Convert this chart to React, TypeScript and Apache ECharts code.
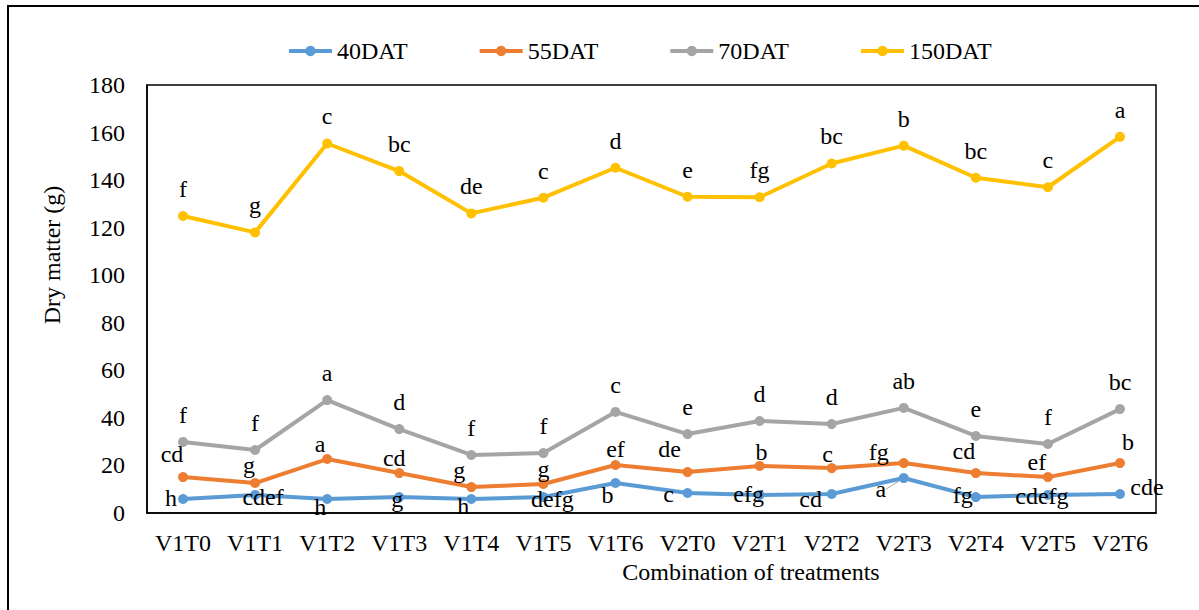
import React, { useEffect, useRef } from "react";
import * as echarts from "echarts";

const categories = ["V1T0", "V1T1", "V1T2", "V1T3", "V1T4", "V1T5", "V1T6", "V2T0", "V2T1", "V2T2", "V2T3", "V2T4", "V2T5", "V2T6"];

const dat40 = [5.9, 7.6, 5.9, 6.7, 5.9, 6.7, 12.6, 8.4, 7.6, 8.0, 14.7, 6.7, 7.6, 8.0];
const dat55 = [15.1, 12.6, 22.7, 16.8, 10.9, 12.2, 20.2, 17.2, 19.8, 18.9, 21.0, 16.8, 15.1, 21.0];
const dat70 = [29.9, 26.5, 47.5, 35.3, 24.4, 25.2, 42.5, 33.2, 38.7, 37.4, 44.2, 32.4, 29.0, 43.7];
const dat150 = [124.9, 118.0, 155.4, 143.8, 126.0, 132.6, 145.2, 133.0, 132.8, 147.0, 154.5, 141.0, 137.0, 158.2];

const letters40 = ["h", "cdef", "h", "g", "h", "defg", "b", "c", "efg", "cd", "a", "fg", "cdefg", "cde"];
const letters55 = ["cd", "g", "a", "cd", "g", "g", "ef", "de", "b", "c", "fg", "cd", "ef", "b"];
const letters70 = ["f", "f", "a", "d", "f", "f", "c", "e", "d", "d", "ab", "e", "f", "bc"];
const letters150 = ["f", "g", "c", "bc", "de", "c", "d", "e", "fg", "bc", "b", "bc", "c", "a"];

const seriesNames = ["40DAT", "55DAT", "70DAT", "150DAT"];
const yTicks = { min: 0, max: 180, interval: 20 };

// label placement (pixel offsets from each point), layout only
const offs40 = [[-12, -1], [8, 2], [-7, 8], [-2, 2], [-8, 7], [9, 2], [-8, 12], [-19, 1], [-11, -1], [-21, 5], [-23, 11], [-13, -2], [-6, 1], [27, -7]];
const offs55 = [[-11, -23], [-6, -18], [-7, -15], [-5, -15], [-12, -17], [0, -15], [0, -16], [-18, -23], [2, -14], [-4, -14], [-25, -11], [-12, -22], [-11, -15], [8, -21]];
const guideLineIndex40 = 10;

const FONT = "Liberation Serif, Times New Roman, serif";
const FS = 24;
const SYM = 10;
const COLORS = ["#5B9BD5", "#ED7D31", "#A5A5A5", "#FFC000"];

function buildData(values: number[], letters: string[], offs: number[][] | null, guide: number) {
  return values.map((v, i) => {
    const o = offs ? offs[i] : [0, -27];
    const item: any = {
      value: v,
      label: {
        show: true,
        formatter: letters[i],
        position: [SYM / 2 + o[0], SYM / 2 + o[1]],
        align: "center",
        verticalAlign: "middle",
      },
    };
    if (i === guide) {
      item.labelLine = { show: true, lineStyle: { color: "#A5A5A5", width: 1 } };
    }
    return item;
  });
}

export default function App() {
  const ref = useRef<HTMLDivElement>(null);
  useEffect(() => {
    if (!ref.current) return;
    const chart = echarts.init(ref.current, undefined, { renderer: "svg" });
    const valuesList = [dat40, dat55, dat70, dat150];
    const lettersList = [letters40, letters55, letters70, letters150];
    const offsList = [offs40, offs55, null, null];
    chart.setOption({
      animation: false,
      backgroundColor: "#fff",
      textStyle: { fontFamily: FONT },
      graphic: [
        {
          type: "rect",
          shape: { x: 8, y: 6, width: 1250, height: 700 },
          style: { fill: "none", stroke: "#000", lineWidth: 2 },
          z: 100,
        },
        {
          type: "text",
          x: 52,
          y: 255,
          rotation: Math.PI / 2,
          style: {
            text: "Dry matter (g)",
            fontFamily: FONT,
            fontSize: FS,
            fill: "#000",
            align: "center",
            verticalAlign: "middle",
          },
        },
        {
          type: "text",
          x: 751,
          y: 572,
          style: {
            text: "Combination of treatments",
            fontFamily: FONT,
            fontSize: FS,
            fill: "#000",
            align: "center",
            verticalAlign: "middle",
          },
        },
      ],
      legend: {
        data: seriesNames,
        left: 287,
        top: 39,
        padding: 0,
        itemWidth: 43,
        itemHeight: 13,
        itemGap: 70,
        lineStyle: { width: 4 },
        textStyle: { fontFamily: FONT, fontSize: FS, color: "#000" },
      },
      grid: {
        left: 147,
        right: 43,
        top: 85,
        bottom: 97,
        show: true,
        borderColor: "#000",
        borderWidth: 1.5,
        backgroundColor: "transparent",
      },
      xAxis: {
        type: "category",
        data: categories,
        boundaryGap: true,
        axisLine: { show: true, lineStyle: { color: "#000", width: 1.5 } },
        axisTick: { show: false },
        axisLabel: { color: "#000", fontFamily: FONT, fontSize: FS, margin: 18, interval: 0 },
      },
      yAxis: {
        type: "value",
        min: yTicks.min,
        max: yTicks.max,
        interval: yTicks.interval,
        axisLine: { show: true, lineStyle: { color: "#000", width: 1.5 } },
        axisTick: { show: false },
        splitLine: { show: false },
        axisLabel: { color: "#000", fontFamily: FONT, fontSize: FS, margin: 22 },
      },
      series: seriesNames.map((name, k) => ({
        name,
        type: "line",
        data: buildData(valuesList[k], lettersList[k], offsList[k], k === 0 ? guideLineIndex40 : -1),
        symbol: "circle",
        symbolSize: SYM,
        color: COLORS[k],
        lineStyle: { width: 4, color: COLORS[k] },
        itemStyle: { color: COLORS[k] },
        label: {
          show: true,
          color: "#000",
          fontFamily: FONT,
          fontSize: FS,
        },
        labelLayout: { hideOverlap: false },
        z: 2 + k,
      })),
    });
    return () => chart.dispose();
  }, []);
  return (
    <div
      ref={ref}
      style={{ position: "absolute", left: 0, top: 0, width: 1199, height: 610 }}
    />
  );
}
